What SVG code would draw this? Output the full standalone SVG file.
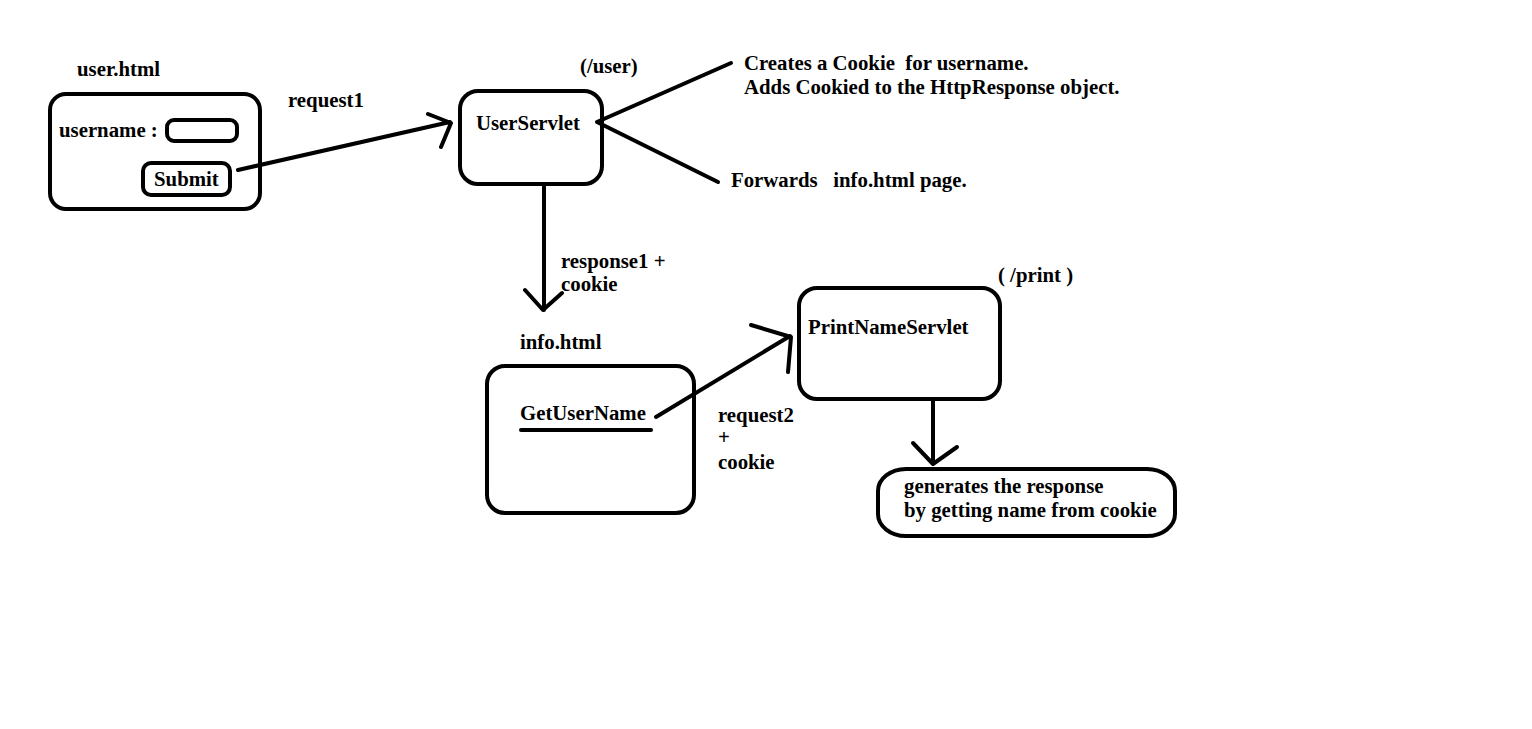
<svg xmlns="http://www.w3.org/2000/svg" width="1532" height="729" viewBox="0 0 1532 729">
<style>
text{font-family:"Liberation Serif","Times New Roman",serif;font-weight:bold;font-size:20.8px;fill:#000}
.b{fill:none;stroke:#000;stroke-width:4}
.l{fill:none;stroke:#000;stroke-width:4;stroke-linecap:round;stroke-linejoin:round}
</style>
<rect width="1532" height="729" fill="#fff"/>
<g id="user-html">
<text x="77" y="76">user.html</text>
<rect class="b" x="50" y="94" width="210" height="115" rx="16"/>
<text x="59" y="137">username :</text>
<rect class="b" x="167" y="120" width="70" height="21" rx="7"/>
<rect class="b" x="143" y="163" width="87" height="32" rx="8"/>
<text x="154" y="186">Submit</text>
</g>
<g id="user-servlet">
<text x="580" y="73">(/user)</text>
<rect class="b" x="460" y="91" width="142" height="93" rx="18"/>
<text x="476" y="130">UserServlet</text>
</g>
<g id="notes">
<text x="744" y="70" xml:space="preserve">Creates a Cookie  for username.</text>
<text x="744" y="94">Adds Cookied to the HttpResponse object.</text>
<text x="731" y="187" xml:space="preserve">Forwards   info.html page.</text>
</g>
<g id="info-html">
<text x="520" y="349">info.html</text>
<rect class="b" x="487" y="366" width="207" height="147" rx="18"/>
<text x="520" y="420">GetUserName</text>
<line class="l" x1="521" y1="430" x2="651" y2="430"/>
</g>
<g id="print-servlet">
<text x="998" y="282">( /print )</text>
<rect class="b" x="799" y="288" width="201" height="111" rx="18"/>
<text x="808" y="334">PrintNameServlet</text>
</g>
<g id="response">
<rect class="b" x="878" y="469" width="297" height="67" rx="28" ry="22"/>
<text x="904" y="493">generates the response</text>
<text x="904" y="517">by getting name from cookie</text>
</g>
<g id="connectors">
<path class="l" d="M238 170 L450 122 M428 114 L451 123 L441 147"/>
<text x="288" y="107">request1</text>
<path class="l" d="M597 122 L731 63 M597 122 L718 182"/>
<path class="l" d="M544 184 L544 310 M525 290 L543 310 L562 293"/>
<text x="561" y="268">response1 +</text>
<text x="561" y="291">cookie</text>
<path class="l" d="M656 417 L790 336 M751 325 L791 337 L788 372"/>
<text x="718" y="422">request2</text>
<text x="718" y="444">+</text>
<text x="718" y="469">cookie</text>
<path class="l" d="M933 399 L933 464 M913 443 L933 464 L957 447"/>
</g>
</svg>
